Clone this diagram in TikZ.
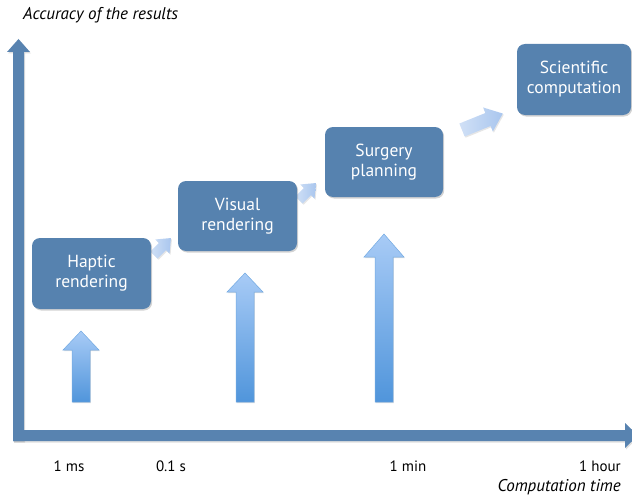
\documentclass[tikz,border=0pt]{standalone}
\usepackage{fontspec}
\setmainfont{PT Sans}
\usetikzlibrary{shadows}
\definecolor{boxblue}{HTML}{5682AF}
\definecolor{axisblue}{HTML}{5883B0}
\definecolor{uptop}{HTML}{A8CBF6}
\definecolor{upbot}{HTML}{5095DB}
\definecolor{diaglight}{HTML}{D0E0F6}
\definecolor{diagdark}{HTML}{A9C6EE}
\tikzset{
  stagebox/.style={draw=none, fill=boxblue, rounded corners=8pt, text=white,
    align=center, font=\fontsize{17.5}{20}\selectfont, inner sep=0pt,
    drop shadow={opacity=0.35, shadow xshift=1.2pt, shadow yshift=-1.5pt}},
  axisline/.style={fill=axisblue, draw=none,
    drop shadow={opacity=0.25, shadow xshift=1pt, shadow yshift=-1.5pt}},
  uparrow/.style={top color=uptop, bottom color=upbot, draw=upbot!80!white, line width=0.5pt,
    drop shadow={opacity=0.25, shadow xshift=0.8pt, shadow yshift=-1.2pt}},
  diagarrow/.style={left color=diaglight, right color=diagdark, draw=none,
    drop shadow={opacity=0.2, shadow xshift=1pt, shadow yshift=-1.2pt}},
  ticklabel/.style={font=\fontsize{15}{17}\selectfont, anchor=base},
  axislabel/.style={font=\fontsize{17}{19}\selectfont\itshape}
}
\begin{document}
\begin{tikzpicture}[x=1pt, y=-1pt]
\useasboundingbox (0,0) rectangle (632,495);
% axes
\path[axisline] (13,441) -- (13,52) -- (7,52) -- (18.5,39) -- (30,52) -- (24,52) -- (24,441) -- cycle;
\path[axisline] (13,441) -- (13,430) -- (625,430) -- (625,423) -- (638,435.5) -- (625,448) -- (625,441) -- cycle;
% diagonal connector arrows
\begin{scope}[shift={(154,255)}, rotate=45]
  \path[diagarrow] (0,-5) -- (12,-5) -- (12,-10) -- (24,0) -- (12,10) -- (12,5) -- (0,5) -- cycle;
\end{scope}
\begin{scope}[shift={(299,200)}, rotate=45]
  \path[diagarrow] (0,-5) -- (12,-5) -- (12,-10) -- (24,0) -- (12,10) -- (12,5) -- (0,5) -- cycle;
\end{scope}
\begin{scope}[shift={(462,130)}, rotate=22]
  \path[diagarrow] (0,-7) -- (28,-7) -- (28,-13) -- (44,0) -- (28,13) -- (28,7) -- (0,7) -- cycle;
\end{scope}
% boxes
\node[stagebox, minimum width=119pt, minimum height=71pt] (haptic) at (91.5,273.5) {Haptic\\rendering};
\node[stagebox, minimum width=119pt, minimum height=70pt] (visual) at (237.5,216) {Visual\\rendering};
\node[stagebox, minimum width=118pt, minimum height=70pt] (surgery) at (384,162) {Surgery\\planning};
\node[stagebox, minimum width=114pt, minimum height=71pt] (scientific) at (574,79.5) {Scientific\\computation};
% up arrows
\path[uparrow] (72,402) -- (72,350) -- (63,350) -- (81,331) -- (99,350) -- (90,350) -- (90,402) -- cycle;
\path[uparrow] (236,402) -- (236,292) -- (227,292) -- (245,273) -- (263,292) -- (254,292) -- (254,402) -- cycle;
\path[uparrow] (375,402) -- (375,257) -- (364,257) -- (384,234) -- (404,257) -- (393,257) -- (393,402) -- cycle;
% labels
\node[axislabel, anchor=base west, inner sep=0pt] (ylab) at (23,20) {Accuracy of the results};
\node[ticklabel] (t1) at (69,471) {1 ms};
\node[ticklabel] (t2) at (171,471) {0.1 s};
\node[ticklabel] (t3) at (408,471) {1 min};
\node[ticklabel, anchor=base east, inner sep=0pt] (t4) at (621,471) {1 hour};
\node[axislabel, anchor=base east, inner sep=0pt] (xlab) at (621,491) {Computation time};
\end{tikzpicture}
\end{document}
